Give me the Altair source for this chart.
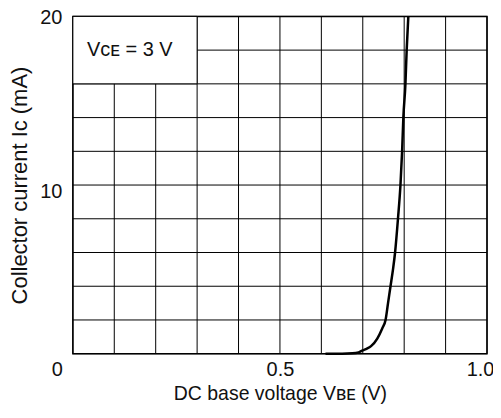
import altair as alt
import pandas as pd

# Curve (VBE in V, IC in mA)
vbe = [0.61, 0.65, 0.675, 0.69, 0.70, 0.71, 0.72, 0.735, 0.747, 0.755, 0.761,
       0.767, 0.773, 0.778, 0.785, 0.791, 0.795, 0.798, 0.803, 0.806, 0.810]
ic = [0, 0, 0.02, 0.08, 0.2, 0.3, 0.45, 0.9, 1.5, 2.0, 3.0,
      4.0, 5.0, 6.0, 8.0, 10, 12, 14, 16, 18, 20]

# Grid lines
x_grid = [round(i * 0.1, 1) for i in range(11)]
y_grid = list(range(0, 21, 2))

# Tick labels
x_ticks = [0, 0.5, 1.0]
y_ticks = [10, 20]

# Condition box
box_x0 = [0.0]
box_x1 = [0.3]
box_y0 = [16]
box_y1 = [20]
note_x = [0.034]
note_y = [18.0]
note_text = ["V\u1d04\u1d07 = 3 V"]

FONT = "Liberation Sans"
TXT = "#111111"

curve_df = pd.DataFrame({"vbe": vbe, "ic": ic})
xg_df = pd.DataFrame({"g": x_grid})
yg_df = pd.DataFrame({"g": y_grid})
box_df = pd.DataFrame({"x0": box_x0, "x1": box_x1, "y0": box_y0, "y1": box_y1})
note_df = pd.DataFrame({"x": note_x, "y": note_y, "t": note_text})

xscale = alt.Scale(domain=[0, 1], nice=False, zero=False)
yscale = alt.Scale(domain=[0, 20], nice=False, zero=False)

x_axis = alt.Axis(
    values=x_ticks,
    grid=False,
    labelFlush=False,
    labelExpr="datum.value == 0 ? '0' : datum.value == 0.5 ? '0.5' : '1.0'",
    labelOffset={"condition": [{"test": "datum.value == 0", "value": -16},
                               {"test": "datum.value == 1", "value": -7}],
                 "value": 0},
    labelPadding=6,
    labelFontSize=20,
    title="DC base voltage V\u0299\u1d07 (V)",
    titleFontSize=19.5,
    titlePadding=5,
)
y_axis = alt.Axis(
    values=y_ticks,
    grid=False,
    labelFlush=False,
    labelOffset={"condition": {"test": "datum.value == 10", "value": 6}, "value": 1},
    labelPadding=11,
    labelFontSize=20,
    title="Collector current I\u1d04 (mA)",
    titleFontSize=22,
    titlePadding=8,
)

vgrid = alt.Chart(xg_df).mark_rule(color="black", strokeWidth=1).encode(
    x=alt.X("g:Q", scale=xscale, axis=x_axis),
)
hgrid = alt.Chart(yg_df).mark_rule(color="black", strokeWidth=1).encode(
    y=alt.Y("g:Q", scale=yscale, axis=y_axis),
)

line = alt.Chart(curve_df).mark_line(
    color="black", strokeWidth=2.5, interpolate="monotone"
).encode(
    x=alt.X("vbe:Q", scale=xscale, axis=x_axis),
    y=alt.Y("ic:Q", scale=yscale, axis=y_axis),
)

box = alt.Chart(box_df).mark_rect(
    fill="white", stroke="black", strokeWidth=1
).encode(
    x=alt.X("x0:Q", scale=xscale, axis=x_axis),
    x2="x1:Q",
    y=alt.Y("y0:Q", scale=yscale, axis=y_axis),
    y2="y1:Q",
)

note = alt.Chart(note_df).mark_text(
    align="left", baseline="middle", font=FONT, fontSize=20, color=TXT
).encode(
    x=alt.X("x:Q", scale=xscale, axis=x_axis),
    y=alt.Y("y:Q", scale=yscale, axis=y_axis),
    text="t:N",
)

chart = alt.layer(vgrid, hgrid, line, box, note).properties(
    width=415,
    height=338,
    autosize=alt.AutoSizeParams(type="none"),
    padding={"left": 65, "top": 8, "right": 6, "bottom": 50},
    background="white",
).configure_view(
    stroke="black", strokeWidth=1.5
).configure_axis(
    domain=False,
    ticks=False,
    labelFont=FONT,
    labelColor=TXT,
    titleFont=FONT,
    titleFontWeight="normal",
    titleColor=TXT,
)

chart.save("out.html", embed_options={"renderer": "svg", "actions": False})
